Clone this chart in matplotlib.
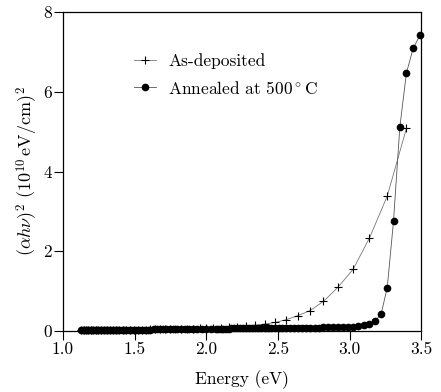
import matplotlib
matplotlib.use("Agg")
import matplotlib.pyplot as plt

plt.rcParams['font.family'] = 'serif'
plt.rcParams['font.serif'] = ['cmr10']
plt.rcParams['mathtext.fontset'] = 'cm'
plt.rcParams['axes.formatter.use_mathtext'] = True

# As-deposited film, energy (eV) and (alpha h nu)^2 (1e10 eV/cm)^2
E_dep = [3.397, 3.263, 3.139, 3.024, 2.918, 2.818, 2.725, 2.638, 2.557, 2.480,
         2.408, 2.340, 2.275, 2.214, 2.157, 2.102, 2.050, 2.000, 1.953, 1.908,
         1.865, 1.824, 1.784, 1.746, 1.710, 1.676, 1.642, 1.610, 1.580, 1.550,
         1.521, 1.494, 1.467, 1.442, 1.417, 1.393, 1.370, 1.348, 1.326, 1.305,
         1.285, 1.265, 1.246, 1.228, 1.210, 1.192, 1.175, 1.159, 1.143, 1.127]
A_dep = [5.08, 3.38, 2.33, 1.54, 1.09, 0.74, 0.51, 0.38, 0.28, 0.21,
         0.17, 0.14, 0.12, 0.10, 0.09, 0.08, 0.07, 0.065, 0.06, 0.055,
         0.05, 0.048, 0.045, 0.042, 0.04, 0.038, 0.036, 0.034, 0.032, 0.03,
         0.029, 0.028, 0.027, 0.026, 0.025, 0.024, 0.023, 0.022, 0.021, 0.02,
         0.019, 0.018, 0.017, 0.016, 0.015, 0.014, 0.013, 0.012, 0.011, 0.01]

# Annealed at 500 C
E_ann = [3.493, 3.444, 3.397, 3.351, 3.307, 3.263, 3.221, 3.179, 3.139, 3.100,
         3.062, 3.024, 2.988, 2.952, 2.918, 2.884, 2.851, 2.818, 2.787, 2.756,
         2.725, 2.696, 2.667, 2.638, 2.611, 2.583, 2.557, 2.531, 2.505, 2.480,
         2.455, 2.431, 2.408, 2.385, 2.362, 2.340, 2.318, 2.296, 2.275, 2.255,
         2.234, 2.214, 2.195, 2.175, 2.157, 2.138, 2.120, 2.102, 2.084, 2.067,
         2.033, 2.000, 1.968, 1.938, 1.908, 1.879, 1.851, 1.824, 1.797, 1.771,
         1.746, 1.722, 1.699, 1.676, 1.653, 1.632, 1.610, 1.590, 1.570, 1.550,
         1.531, 1.512, 1.494, 1.476, 1.459, 1.442, 1.425, 1.409, 1.393, 1.378,
         1.363, 1.348, 1.333, 1.319, 1.305, 1.292, 1.278, 1.265, 1.253, 1.240,
         1.228, 1.216, 1.204, 1.192, 1.181, 1.170, 1.159, 1.148, 1.138, 1.127]
A_ann = [7.43, 7.09, 6.47, 5.11, 2.75, 1.08, 0.43, 0.24, 0.175, 0.135,
         0.11, 0.10, 0.095, 0.092, 0.09, 0.088, 0.086, 0.085, 0.084, 0.083,
         0.082, 0.081, 0.08, 0.079, 0.078, 0.077, 0.076, 0.075, 0.074, 0.073,
         0.072, 0.071, 0.07, 0.069, 0.068, 0.067, 0.066, 0.065, 0.064, 0.063,
         0.062, 0.061, 0.06, 0.059, 0.058, 0.057, 0.056, 0.055, 0.054, 0.053,
         0.052, 0.05, 0.049, 0.047, 0.046, 0.045, 0.044, 0.042, 0.041, 0.04,
         0.039, 0.038, 0.037, 0.036, 0.035, 0.034, 0.033, 0.032, 0.031, 0.03,
         0.029, 0.028, 0.027, 0.026, 0.025, 0.024, 0.023, 0.022, 0.021, 0.02,
         0.019, 0.019, 0.018, 0.018, 0.017, 0.017, 0.016, 0.016, 0.015, 0.015,
         0.014, 0.014, 0.013, 0.013, 0.012, 0.012, 0.011, 0.011, 0.01, 0.01]

fig = plt.figure(figsize=(4.41, 3.92), dpi=100)
ax = fig.add_axes([0.143, 0.156, 0.812, 0.813])

ax.plot(E_dep, A_dep, color='#777777', lw=0.6, marker='+', ms=5.5, mew=0.8,
        mec='black', label='As-deposited', clip_on=False, zorder=3)
ax.plot(E_ann, A_ann, color='#555555', lw=0.6, marker='o', ms=4.5,
        mfc='black', mec='black', label=r'Annealed at 500$^\circ$C',
        clip_on=False, zorder=4)

ax.set_xlim(1.0, 3.5)
ax.set_ylim(0, 8)
ax.set_xticks([1.0, 1.5, 2.0, 2.5, 3.0, 3.5])
ax.set_xticklabels(['1.0', '1.5', '2.0', '2.5', '3.0', '3.5'])
ax.set_yticks([0, 2, 4, 6, 8])
ax.set_yticklabels(['0', '2', '4', '6', '8'])
ax.tick_params(direction='out', length=6.5, width=0.8, labelsize=12.5, pad=1.5)
for s in ax.spines.values():
    s.set_linewidth(0.9)

ax.set_xlabel('Energy (eV)', fontsize=12.5, labelpad=9)
ax.set_ylabel(r'$(\alpha h\nu)^2\ (10^{10}\,\mathrm{eV/cm})^2$', fontsize=13, labelpad=2)

ax.legend(loc='upper left', bbox_to_anchor=(0.155, 0.92), frameon=False,
          fontsize=12.5, handlelength=1.25, handletextpad=0.7, labelspacing=0.6)

fig.savefig('out.png', dpi=100)
